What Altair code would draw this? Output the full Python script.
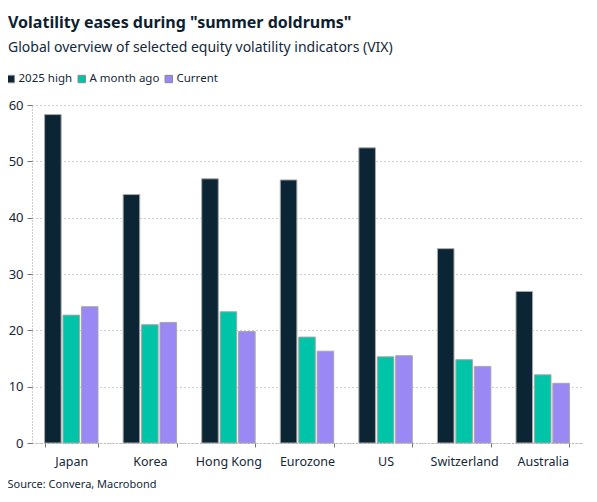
import altair as alt
import pandas as pd

regions = ["Japan", "Korea", "Hong Kong", "Eurozone", "US", "Switzerland", "Australia"]
series = ["2025 high", "A month ago", "Current"]
high_2025 = [58.3, 44.1, 46.9, 46.7, 52.4, 34.5, 26.9]
month_ago = [22.7, 21.0, 23.3, 18.8, 15.3, 14.8, 12.1]
current = [24.2, 21.4, 19.8, 16.3, 15.5, 13.6, 10.6]
colors = ["#0b2535", "#00c4a7", "#9a88f5"]
y_ticks = [0, 10, 20, 30, 40, 50, 60]

rows = []
for name, vals in zip(series, [high_2025, month_ago, current]):
    for r, v in zip(regions, vals):
        rows.append({"region": r, "series": name, "value": v})
df = pd.DataFrame(rows)

FONT = "Segoe UI, Noto Sans, sans-serif"
INK = "#13283a"

chart = (
    alt.Chart(
        df,
        title=alt.Title(
            'Volatility eases during "summer doldrums"',
            subtitle="Global overview of selected equity volatility indicators (VIX)",
            anchor="start",
            frame="group",
            dx=-24,
            fontSize=16,
            fontWeight="bold",
            color="#0d1f30",
            subtitleFontSize=14,
            subtitleColor=INK,
            subtitlePadding=10,
            offset=18,
            font=FONT,
            subtitleFont=FONT,
        ),
    )
    .mark_bar(stroke="#a8a8a8", strokeWidth=1)
    .encode(
        alt.X("region:N", sort=regions)
        .scale(paddingInner=0.32, paddingOuter=0.16)
        .axis(
            labelAngle=0,
            tickBand="extent",
            labelPadding=8,
            title="Source: Convera, Macrobond",
            titleAnchor="start",
            titleAlign="left",
            titleBaseline="top",
            titleX=-25,
            titleY=35,
            titleFontSize=11,
            titleFontWeight="normal",
            titleColor=INK,
        ),
        alt.XOffset("series:N").scale(domain=series, paddingInner=0.1),
        alt.Y("value:Q", scale=alt.Scale(domain=[0, 60]))
        .axis(values=y_ticks, title=None, grid=True, tickSize=5, labelPadding=4),
        alt.Color("series:N")
        .scale(domain=series, range=colors)
        .legend(
            title=None,
            orient="none",
            direction="horizontal",
            legendX=-27,
            legendY=-32,
            symbolType="square",
            symbolSize=55,
            symbolStrokeColor="#888888",
            symbolStrokeWidth=1,
            labelFontSize=11.5,
            labelColor=INK,
            labelFont=FONT,
            columnPadding=3,
            symbolOffset=0,
            labelOffset=2,
        ),
    )
    .properties(
        width=550,
        height=338,
        autosize=alt.AutoSizeParams(type="none"),
        padding={"left": 24, "top": 97, "right": 7, "bottom": 51},
    )
    .configure_view(stroke=None)
    .configure_axis(
        labelFont=FONT,
        titleFont=FONT,
        labelColor=INK,
        labelFontSize=12.5,
        domainColor="#9a9a9a",
        domainDash=[1, 2],
        gridColor="#a0a0a0",
        gridDash=[1, 3],
        tickColor="#777777",
        tickSize=4,
    )
    .configure_axisY(labelFontSize=13)
)

chart.save("out.html", embed_options={"renderer": "svg", "actions": False})
